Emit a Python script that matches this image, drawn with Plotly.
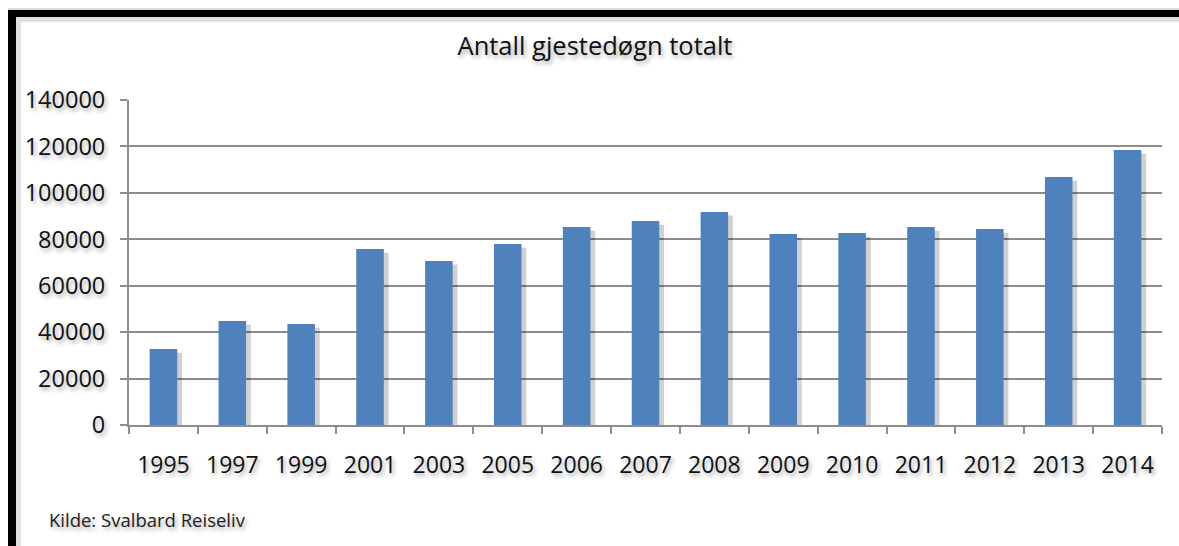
import plotly.graph_objects as go

years = ["1995", "1997", "1999", "2001", "2003", "2005", "2006", "2007",
         "2008", "2009", "2010", "2011", "2012", "2013", "2014"]
gjestedogn = [32700, 44800, 43500, 75800, 70700, 78000, 85300, 87900,
              91800, 82300, 82700, 85300, 84400, 106800, 118500]
y_ticks = [0, 20000, 40000, 60000, 80000, 100000, 120000, 140000]

title_text = "Antall gjestedøgn totalt"
source_text = "Kilde: Svalbard Reiseliv"

BAR = "#4F81BD"
GRID = "#8c8c8c"
FONT = "Open Sans"
TXT_SHADOW = "2px 3px 4px rgba(0,0,0,0.35)"

fig = go.Figure()
# soft drop shadow under the bars
fig.add_trace(go.Bar(
    x=years, y=gjestedogn, base=[-1600] * len(years),
    width=0.4, offset=-0.2 + 0.07,
    marker=dict(color="rgba(0,0,0,0.18)", line=dict(width=0)),
    hoverinfo="skip", showlegend=False,
))
fig.add_trace(go.Bar(
    x=years, y=gjestedogn, width=0.4, offset=-0.2,
    marker=dict(color=BAR, line=dict(width=0)),
    showlegend=False,
))

W, H = 1179, 546
L, R, T, B = 129, 1162, 100, 425
pw, ph = R - L, B - T


def px(xp):
    return (xp - L) / pw


def py(yp):
    return (B - yp) / ph


fig.update_layout(
    width=W, height=H,
    margin=dict(l=L, r=W - R, t=T, b=H - B),
    paper_bgcolor="white", plot_bgcolor="white",
    barmode="overlay",
    font=dict(family=FONT, color="#111111"),
    title=dict(text=title_text, x=595 / W, xref="container", xanchor="center",
               y=1 - 46 / H, yanchor="middle",
               font=dict(family=FONT, size=25.5, color="#111111", shadow=TXT_SHADOW)),
    xaxis=dict(
        type="category", showgrid=False, showline=True, linecolor=GRID, linewidth=2,
        ticks="outside", tickson="boundaries", ticklen=7, tickcolor=GRID, tickwidth=2,
        tickfont=dict(family=FONT, size=23, color="#111111", shadow=TXT_SHADOW),
        ticklabelstandoff=18,
    ),
    yaxis=dict(
        range=[0, 140000], tickvals=y_ticks, ticktext=[str(v) for v in y_ticks],
        showgrid=True, gridcolor=GRID, gridwidth=2, zeroline=False,
        showline=True, linecolor=GRID, linewidth=2,
        ticks="outside", ticklen=7, tickcolor=GRID, tickwidth=2,
        tickfont=dict(family=FONT, size=23.5, color="#111111", shadow=TXT_SHADOW),
        ticklabelstandoff=10,
    ),
    shapes=[
        # thin grey line above the frame
        dict(type="line", xref="paper", yref="paper", x0=px(8), x1=px(1185),
             y0=py(9), y1=py(9), line=dict(color="#bbbbbb", width=1), layer="above"),
        # thick black frame top
        dict(type="rect", xref="paper", yref="paper", x0=px(8), x1=px(1185),
             y0=py(17), y1=py(10), fillcolor="black", line=dict(width=0), layer="above"),
        # thick black frame left
        dict(type="rect", xref="paper", yref="paper", x0=px(8), x1=px(16),
             y0=py(550), y1=py(10), fillcolor="black", line=dict(width=0), layer="above"),
        # inner shadow of frame
        dict(type="rect", xref="paper", yref="paper", x0=px(16), x1=px(1185),
             y0=py(22), y1=py(17), fillcolor="rgba(0,0,0,0.12)", line=dict(width=0), layer="above"),
        dict(type="rect", xref="paper", yref="paper", x0=px(16), x1=px(21),
             y0=py(550), y1=py(22), fillcolor="rgba(0,0,0,0.12)", line=dict(width=0), layer="above"),
    ],
    annotations=[
        dict(text=source_text, xref="paper", yref="paper", x=px(47), y=py(519),
             xanchor="left", yanchor="middle", showarrow=False,
             font=dict(family=FONT, size=18.5, color="#222222", shadow=TXT_SHADOW)),
    ],
)

fig.write_html("out.html", config={"displayModeBar": False},
               post_script="document.body.style.margin='0';")
